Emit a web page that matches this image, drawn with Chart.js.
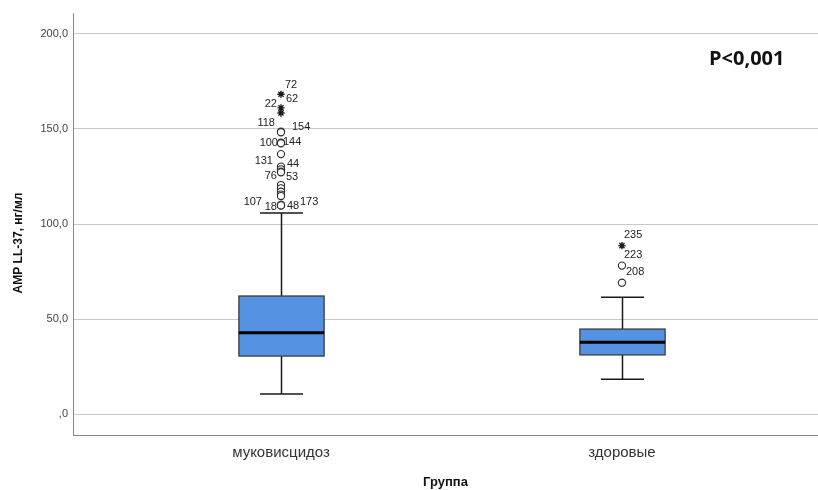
<!DOCTYPE html>
<html>
<head>
<meta charset="utf-8">
<script src="https://cdn.jsdelivr.net/npm/chart.js@4"></script>
<style>
  html, body { margin: 0; padding: 0; background: #fff; overflow: hidden; }
  canvas { display: block; }
</style>
</head>
<body>
<canvas id="boxChart" width="818" height="490"></canvas>
<script>
// groups on the x axis
const groups = ['муковисцидоз', 'здоровые'];

// box plot summary per group
const whiskerLow = [10.5, 18.3];
const q1 = [30.5, 31.1];
const median = [42.8, 37.7];
const q3 = [62.1, 44.7];
const whiskerHigh = [105.8, 61.4];

// outliers (circles) and extremes (stars) with case numbers
const cfOutliers = [148.6, 148.3, 142.8, 142.5, 136.8, 130.2, 128.8, 127.5, 127.2, 120.5, 118.8, 117.0, 115.5, 114.7, 110.0, 110.0, 109.8, 109.8];
const cfOutlierIds = ['118', '154', '100', '144', '', '131', '44', '76', '53', '', '', '', '', '', '107', '18', '48', '173'];
const cfExtremes = [168.3, 161.1, 158.4];
const cfExtremeIds = ['72', '62', '22'];
const hcOutliers = [78.1, 69.1];
const hcOutlierIds = ['223', '208'];
const hcExtremes = [88.6];
const hcExtremeIds = ['235'];

// y axis ticks
const yTicks = [0, 50, 100, 150, 200];

// where each case label sits next to its marker (px; negative dx = text on the left)
const labelOffsets = {
    '72': [4, -9], '62': [5, -9], '22': [-4, -9],
    '118': [-6, -9], '154': [11, -5],
    '100': [-3, 0], '144': [2, -1],
    '131': [-8, -6], '44': [6, -5],
    '76': [-4, 4], '53': [5, 5],
    '107': [-19, -3], '18': [-4, 2], '48': [6, 1], '173': [19, -3],
    '235': [2, -11], '223': [2, -11], '208': [4, -11]
};

function toPoints(values, ids, group) {
    return values.map((v, i) => ({ x: group, y: v, id: ids[i] }));
}

const circlePoints = toPoints(cfOutliers, cfOutlierIds, 1).concat(toPoints(hcOutliers, hcOutlierIds, 2));
const starPoints = toPoints(cfExtremes, cfExtremeIds, 1).concat(toPoints(hcExtremes, hcExtremeIds, 2));

const boxPlugin = {
    id: 'boxes',
    beforeDatasetsDraw(chart) {
        const ctx = chart.ctx;
        const xs = chart.scales.x;
        const ys = chart.scales.y;
        groups.forEach((g, i) => {
            const cx = Math.round(xs.getPixelForValue(i + 1)) + 0.5;
            const half = xs.getPixelForValue(i + 1.125) - xs.getPixelForValue(i + 1);
            const cap = xs.getPixelForValue(i + 1.063) - xs.getPixelForValue(i + 1);
            const yLo = ys.getPixelForValue(whiskerLow[i]);
            const yQ1 = ys.getPixelForValue(q1[i]);
            const yMed = ys.getPixelForValue(median[i]);
            const yQ3 = ys.getPixelForValue(q3[i]);
            const yHi = ys.getPixelForValue(whiskerHigh[i]);

            ctx.save();
            ctx.strokeStyle = '#1a1a1a';
            ctx.lineWidth = 1.5;
            ctx.beginPath();
            ctx.moveTo(cx, yLo); ctx.lineTo(cx, yQ1);
            ctx.moveTo(cx, yQ3); ctx.lineTo(cx, yHi);
            ctx.moveTo(cx - cap, yLo); ctx.lineTo(cx + cap, yLo);
            ctx.moveTo(cx - cap, yHi); ctx.lineTo(cx + cap, yHi);
            ctx.stroke();

            ctx.fillStyle = '#5592e2';
            ctx.fillRect(cx - half, yQ3, half * 2, yQ1 - yQ3);
            ctx.strokeStyle = '#3c3c3c';
            ctx.lineWidth = 1.3;
            ctx.strokeRect(cx - half, yQ3, half * 2, yQ1 - yQ3);

            ctx.strokeStyle = '#000';
            ctx.lineWidth = 3;
            ctx.beginPath();
            ctx.moveTo(cx - half, yMed); ctx.lineTo(cx + half, yMed);
            ctx.stroke();
            ctx.restore();
        });
    },
    afterDatasetsDraw(chart) {
        const ctx = chart.ctx;
        const xs = chart.scales.x;
        const ys = chart.scales.y;
        ctx.save();
        ctx.font = '11px "Liberation Sans", Arial, sans-serif';
        ctx.fillStyle = '#222';
        ctx.textBaseline = 'middle';
        circlePoints.concat(starPoints).forEach(p => {
            if (!p.id) return;
            const off = labelOffsets[p.id] || [4, -8];
            const px = xs.getPixelForValue(p.x);
            const py = ys.getPixelForValue(p.y);
            ctx.textAlign = off[0] < 0 ? 'right' : 'left';
            ctx.fillText(p.id, px + off[0], py + off[1]);
        });

        // y axis title
        ctx.translate(19, 243);
        ctx.rotate(-Math.PI / 2);
        ctx.textAlign = 'center';
        ctx.font = 'bold 12px "Liberation Sans", Arial, sans-serif';
        ctx.fillStyle = '#111';
        ctx.fillText('AMP LL-37, нг/мл', 0, 0);
        ctx.restore();

        // significance note
        ctx.save();
        ctx.font = 'bold 20px "Open Sans", sans-serif';
        ctx.fillStyle = '#111';
        ctx.textAlign = 'left';
        ctx.textBaseline = 'middle';
        ctx.fillText('P<0,001', 709, 59);
        ctx.restore();
    }
};

new Chart(document.getElementById('boxChart'), {
    type: 'scatter',
    data: {
        datasets: [
            {
                label: 'outliers',
                data: circlePoints,
                pointStyle: 'circle',
                pointRadius: 3.6,
                backgroundColor: '#fff',
                borderColor: '#2a2a2a',
                borderWidth: 1.1
            },
            {
                label: 'extremes',
                data: starPoints,
                pointStyle: 'star',
                pointRadius: 3.6,
                borderColor: '#1a1a1a',
                borderWidth: 1.4
            }
        ]
    },
    options: {
        responsive: false,
        animation: false,
        layout: { autoPadding: false, padding: { top: 13, right: 0, left: 0, bottom: 0 } },
        plugins: {
            legend: { display: false },
            tooltip: { enabled: false }
        },
        scales: {
            x: {
                type: 'linear',
                min: 0.39,
                max: 2.575,
                afterBuildTicks: s => { s.ticks = [{ value: 1 }, { value: 2 }]; },
                afterFit: s => { s.height = 55; s.paddingLeft = 0; s.paddingRight = 0; },
                grid: { display: false, drawTicks: false },
                border: { display: true, color: '#8a8a8a', width: 1 },
                ticks: {
                    padding: 9,
                    color: '#333',
                    font: { family: '"Liberation Sans", Arial, sans-serif', size: 15 },
                    callback: v => groups[v - 1]
                },
                title: {
                    display: true,
                    text: 'Группа',
                    color: '#111',
                    font: { family: '"Liberation Sans", Arial, sans-serif', size: 13, weight: 'bold' },
                    padding: { top: 0, bottom: 0 }
                }
            },
            y: {
                min: -11.05,
                max: 211.05,
                afterBuildTicks: s => { s.ticks = yTicks.map(v => ({ value: v })); },
                afterFit: s => { s.width = 73; s.paddingTop = 0; s.paddingBottom = 0; },
                grid: { color: '#c8c8c8', drawTicks: false },
                border: { display: true, color: '#8a8a8a', width: 1 },
                ticks: {
                    padding: 5,
                    color: '#444',
                    font: { family: '"Liberation Sans", Arial, sans-serif', size: 11 },
                    callback: v => v === 0 ? ',0' : v.toFixed(1).replace('.', ',')
                }
            }
        }
    },
    plugins: [boxPlugin]
});
</script>
</body>
</html>
